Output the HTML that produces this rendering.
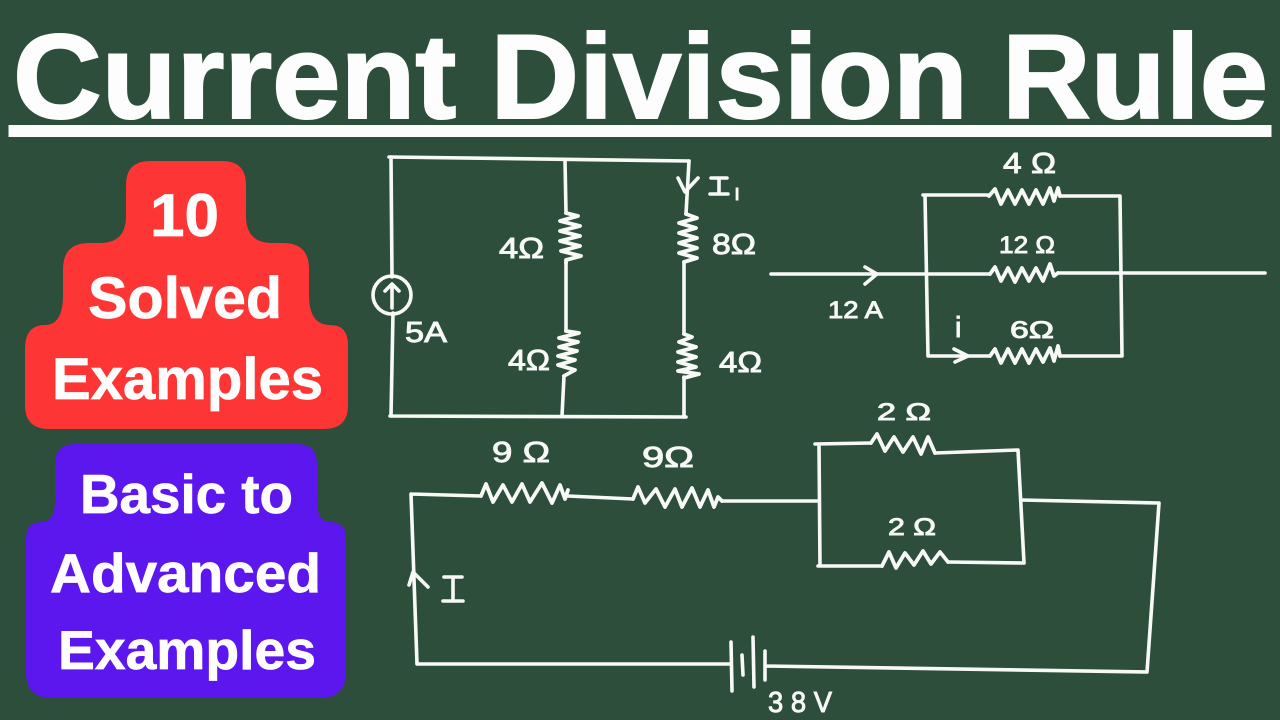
<!DOCTYPE html>
<html>
<head>
<meta charset="utf-8">
<style>
html,body{margin:0;padding:0;width:1280px;height:720px;overflow:hidden;background:#2d4e3b}
svg{display:block}
.w{fill:none;stroke:#f8f9f7;stroke-width:3.6;stroke-linecap:round;stroke-linejoin:round}
.z{fill:none;stroke:#f8f9f7;stroke-width:3.8;stroke-linecap:round;stroke-linejoin:round}
.t{font-family:"Liberation Sans",sans-serif;font-weight:bold;fill:#fdfdfd;stroke:#fdfdfd;stroke-width:.7}
.h{font-family:"Liberation Sans",sans-serif;fill:#f8f9f7;font-size:29px;stroke:#f8f9f7;stroke-width:.9}
.s{font-size:24px}
</style>
</head>
<body>
<svg width="1280" height="720" viewBox="0 0 1280 720" xmlns="http://www.w3.org/2000/svg">
<rect width="1280" height="720" fill="#2d4e3b"/>

<!-- Title -->
<text class="t" x="13" y="118" font-size="120" textLength="1255" lengthAdjust="spacingAndGlyphs" style="stroke-width:2">Current Division Rule</text>
<rect x="8.500" y="125" width="1263" height="12" fill="#fbfcfb"/>

<!-- Red stack -->
<path fill="#fe3535" d="M150 161H222Q246 161 246 185V216Q246 243 272 243H283Q309 243 309 269V295Q309 325 330 325Q348 325 348 345V405Q348 429 324 429H49Q25 429 25 405V349Q25 325 45 325Q63 325 63 295V269Q63 243 89 243H100Q126 243 126 216V185Q126 161 150 161Z"/>
<text class="t" x="150" y="236" font-size="60" textLength="69" lengthAdjust="spacingAndGlyphs">10</text>
<text class="t" x="88" y="318" font-size="58" textLength="194" lengthAdjust="spacingAndGlyphs">Solved</text>
<text class="t" x="52" y="399" font-size="58" textLength="271" lengthAdjust="spacingAndGlyphs">Examples</text>

<!-- Purple stack -->
<path fill="#5b17ee" d="M75 444H297Q317 444 317 464V500Q317 522 330 522Q346 522 346 538V672Q346 698 320 698H52Q26 698 26 672V538Q26 522 42 522Q55 522 55 500V464Q55 444 75 444Z"/>
<text class="t" x="80" y="513" font-size="55" textLength="213" lengthAdjust="spacingAndGlyphs">Basic to</text>
<text class="t" x="50" y="592" font-size="55" textLength="271" lengthAdjust="spacingAndGlyphs">Advanced</text>
<text class="t" x="58" y="669" font-size="55" textLength="258" lengthAdjust="spacingAndGlyphs">Examples</text>

<!-- Circuit 1 -->
<path class="w" d="M389 157L689 161M391 157L392 277M393 313L391 416M390 416L686 417"/>
<circle class="w" cx="392" cy="295" r="19"/>
<path class="w" d="M392 308L392 284M385 291L392 284L399 291"/>
<path class="w" d="M565 160L566 213M566 263L566 331M564 376L562 416"/>
<path class="z" d="M566 213L578 216L560 221L580 226L560 231L580 236L560 241L580 246L561 251L581 256L566 260L566 263"/>
<path class="z" d="M566 331L579 333L559 338L578 342L559 347L577 351L558 356L575 360L558 365L575 370L564 376"/>
<path class="w" d="M689 161L686 214M678 178L685 192L698 178M684 262L684 334M684 377L684 417"/>
<path class="z" d="M686 214L697 218L679 223L696 228L679 233L697 238L679 243L697 248L679 253L697 258L684 262"/>
<path class="z" d="M684 334L692 337L679 342L696 347L678 352L696 357L678 362L696 367L678 371L699 374L684 378"/>
<text class="h" x="499" y="258" textLength="45" lengthAdjust="spacingAndGlyphs">4Ω</text>
<text class="h" x="508" y="370" textLength="42" lengthAdjust="spacingAndGlyphs">4Ω</text>
<text class="h" x="712" y="254" textLength="44" lengthAdjust="spacingAndGlyphs">8Ω</text>
<text class="h" x="719" y="372" textLength="43" lengthAdjust="spacingAndGlyphs">4Ω</text>
<text class="h" x="405" y="342" textLength="42" lengthAdjust="spacingAndGlyphs">5A</text>
<path class="w" d="M711 178H727M719 178V194M710 194H728"/>
<text class="h" x="734" y="200" style="font-size:22px">ı</text>

<!-- Circuit 2 -->
<path class="w" d="M923 195H989M1060 196H1120M925 195L928 356M1120 196L1122 356M928 356H990M1060 356H1122M771 274H990M1058 273H1265"/>
<path class="w" d="M865 267L877 274L865 284M954 349L968 356L955 362"/>
<path class="z" d="M989 196L995 189L1001 204L1008 190L1015 204L1022 190L1029 204L1036 190L1043 204L1050 188L1054 201L1058 188L1060 196"/>
<path class="z" d="M990 274L995 267L1001 281L1008 268L1015 282L1022 268L1029 281L1036 268L1043 281L1050 264L1054 276L1058 273"/>
<path class="z" d="M990 356L995 349L1001 363L1008 349L1015 363L1022 349L1029 363L1036 349L1043 362L1050 348L1054 361L1058 346L1060 356"/>
<text class="h" x="1003" y="173" textLength="53" lengthAdjust="spacingAndGlyphs">4 Ω</text>
<text class="h s" x="999" y="253" textLength="56" lengthAdjust="spacingAndGlyphs">12 Ω</text>
<text class="h s" x="828" y="318" textLength="55" lengthAdjust="spacingAndGlyphs">12 A</text>
<text class="h" x="955" y="337">i</text>
<text class="h s" x="1010" y="338" textLength="44" lengthAdjust="spacingAndGlyphs">6Ω</text>

<!-- Circuit 3 -->
<path class="w" d="M411 494L417 664M411 494L481 496M568 496L633 499M722 501L817 501M417 664L730 664"/>
<path class="w" d="M409 585L413 572L428 587"/>
<path class="z" d="M481 496L486 484L493 502L503 485L512 502L522 484L530 502L542 483L552 503L560 485L565 499L568 490"/>
<path class="z" d="M633 499L638 487L645 503L656 489L665 507L675 489L682 507L692 488L700 507L708 490L714 507L718 497L722 501"/>
<path class="w" d="M444 577H462M453 577L453 601M443 601H463"/>
<path class="w" d="M731 642L732 691M742 655L743 675M753 637L754 687M765 651L765 680M765 666L1146 672M1159 503L1147 672M1021 500L1159 503"/>
<path class="w" d="M819 444L820 566M815 444L871 443M935 453L1017 450M1018 450L1024 563M818 566L882 566M948 562L1024 563"/>
<path class="z" d="M871 443L877 434L885 451L894 437L903 452L913 437L921 454L928 437L935 453"/>
<path class="z" d="M882 566L889 552L896 568L905 553L914 565L923 551L931 564L940 552L948 562"/>
<text class="h" x="492" y="462" textLength="58" lengthAdjust="spacingAndGlyphs">9 Ω</text>
<text class="h" x="642" y="467" textLength="52" lengthAdjust="spacingAndGlyphs">9Ω</text>
<text class="h s" x="877" y="420" textLength="54" lengthAdjust="spacingAndGlyphs">2 Ω</text>
<text class="h s" x="888" y="535" textLength="48" lengthAdjust="spacingAndGlyphs">2 Ω</text>
<text class="h" x="768" y="712" textLength="64" lengthAdjust="spacingAndGlyphs">3 8 V</text>
</svg>
</body>
</html>
